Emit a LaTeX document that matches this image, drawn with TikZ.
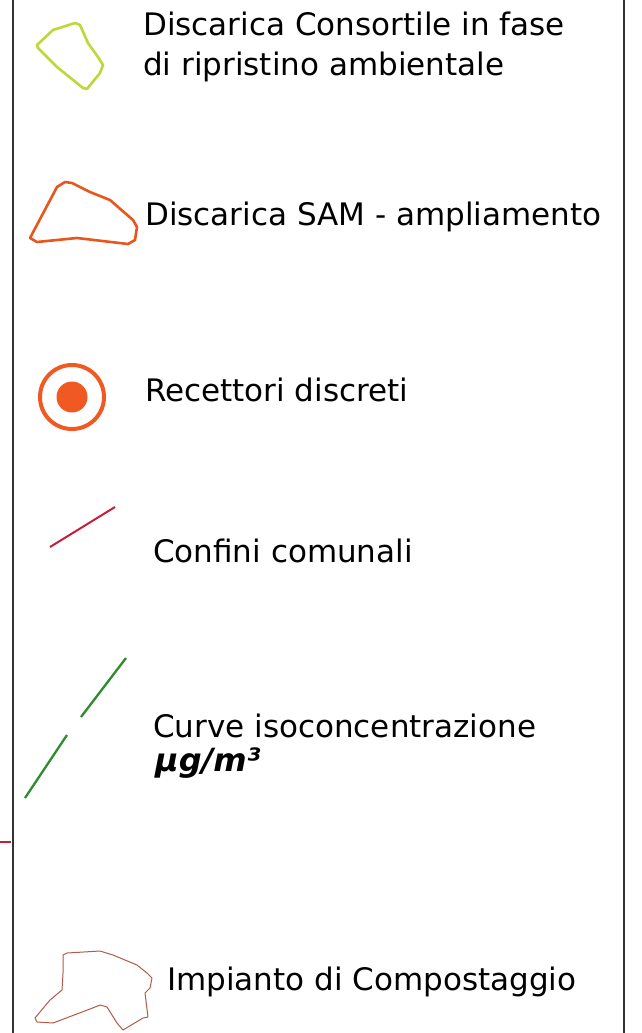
\documentclass[tikz,border=0pt]{standalone}
\usepackage{fontspec}
\setmainfont{DejaVu Sans}
\begin{document}
\begin{tikzpicture}[x=1pt,y=-1pt,
  lbl/.style={anchor=base west,inner sep=0pt,font=\fontsize{31}{36}\selectfont,text=black},
  frameline/.style={draw=black!80,line width=2pt},
  consort/.style={draw=consortcol,line width=2.6pt,line join=round},
  sam/.style={draw=samcol,line width=2.6pt,line join=round},
  compost/.style={draw=compcol,line width=1pt,line join=round},
]
\definecolor{consortcol}{HTML}{BFD837}
\definecolor{samcol}{HTML}{E8561E}
\definecolor{reccol}{HTML}{F05A22}
\definecolor{confcol}{HTML}{C0203A}
\definecolor{isocol}{HTML}{2E8B2E}
\definecolor{compcol}{HTML}{B45A48}
\useasboundingbox (0,0) rectangle (642,1033);
\fill[white] (0,0) rectangle (642,1033);
% frame
\coordinate (ftl) at (12.5,0); \coordinate (fbl) at (12.5,1033);
\coordinate (ftr) at (623.5,0); \coordinate (fbr) at (623.5,1033);
\draw[frameline] (ftl) -- (fbl);
\draw[frameline] (ftr) -- (fbr);
% residue of map outside frame
\coordinate (ra) at (0,842); \coordinate (rb) at (11,842);
\draw[confcol,line width=1.3pt] (ra) -- (rb);
% 1 consortile
\draw[consort] (37,45) -- (53,30) -- (75,23) -- (80,25) -- (88,43) -- (98,57) -- (103,65) -- (100,73) -- (87,89) -- (83,88) -- (57,67) -- (38,48) -- cycle;
\node[lbl] (t1a) at (143,36) {Discarica Consortile in fase};
\node[lbl] (t1b) at (143,76) {di ripristino ambientale};
% 2 SAM
\draw[sam] (30,238) -- (57,187) -- (65,182) -- (72,183) -- (90,192) -- (110,200) -- (133,220) -- (137,227) -- (135,240) -- (128,244) -- (77,238) -- (37,242) -- cycle;
\node[lbl] (t2) at (145,225) {Discarica SAM - ampliamento};
% 3 recettori
\coordinate (rc) at (72,397);
\draw[reccol,line width=4pt] (rc) circle (32);
\fill[reccol] (rc) circle (15.5);
\node[lbl] (t3) at (145,401) {Recettori discreti};
% 4 confini
\coordinate (c1) at (50,547); \coordinate (c2) at (115,507);
\draw[confcol,line width=2pt] (c1) -- (c2);
\node[lbl] (t4) at (153,562) {Confini comunali};
% 5 curve
\coordinate (g1) at (126,658); \coordinate (g2) at (81,717);
\coordinate (g3) at (67,735); \coordinate (g4) at (25,798);
\draw[isocol,line width=2.3pt] (g1) -- (g2);
\draw[isocol,line width=2.3pt] (g3) -- (g4);
\node[lbl] (t5a) at (153,737) {Curve isoconcentrazione};
\node[lbl,font=\fontsize{32}{36}\selectfont\bfseries\itshape] (t5b) at (155,771) {µg/m³};
% 6 compostaggio
\draw[compost] (63,955) -- (67,953) -- (100,951) -- (113,955) -- (137,965) -- (147,973) -- (152,978) -- (150,988) -- (145,993) -- (148,1017) -- (143,1018) -- (123,1030) -- (117,1023) -- (107,1007) -- (100,1005) -- (90,1009) -- (53,1023) -- (37,1022) -- (35,1018) -- (50,1000) -- (62,990) -- (63,973) -- cycle;
\node[lbl] (t6) at (167,990) {Impianto di Compostaggio};
\end{tikzpicture}
\end{document}
